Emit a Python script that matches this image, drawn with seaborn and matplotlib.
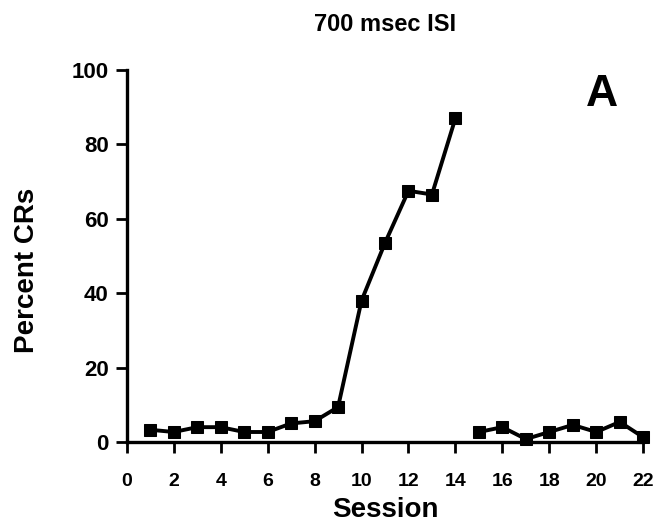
import numpy as np
import pandas as pd
import matplotlib
matplotlib.use("Agg")
import matplotlib.pyplot as plt
import seaborn as sns

# Acquisition sessions (1-14) and extinction sessions (15-22)
acq_sessions = [1, 2, 3, 4, 5, 6, 7, 8, 9, 10, 11, 12, 13, 14]
acq_percent = [3.3, 2.7, 4.0, 4.0, 2.7, 2.7, 5.0, 5.6, 9.4, 38, 53.5, 67.5, 66.5, 87]
ext_sessions = [15, 16, 17, 18, 19, 20, 21, 22]
ext_percent = [2.7, 4.0, 0.8, 2.7, 4.6, 2.7, 5.4, 1.3]

x_ticks = list(range(0, 23, 2))
y_ticks = [0, 20, 40, 60, 80, 100]

sns.set_theme(style="ticks")
plt.rcParams["font.family"] = ["Liberation Sans", "DejaVu Sans"]
plt.rcParams["text.color"] = "black"
plt.rcParams["axes.labelcolor"] = "black"

df = pd.concat([
    pd.DataFrame({"Session": acq_sessions, "Percent": acq_percent, "phase": "acq"}),
    pd.DataFrame({"Session": ext_sessions, "Percent": ext_percent, "phase": "ext"}),
])

fig = plt.figure(figsize=(6.57, 5.25), dpi=100)
ax = fig.add_axes([0.193, 0.158, 0.786, 0.709])

sns.lineplot(data=df, x="Session", y="Percent", hue="phase",
             palette=["black", "black"], marker="s", markersize=9,
             markeredgecolor="black", linewidth=2.8, legend=False, ax=ax,
             estimator=None, clip_on=False)

ax.set_xlim(0, 22)
ax.set_ylim(0, 100)
ax.set_xticks(x_ticks)
ax.set_yticks(y_ticks)
ax.set_xticklabels([str(t) for t in x_ticks], fontsize=14, fontweight="bold")
ax.set_yticklabels([str(t) for t in y_ticks], fontsize=16, fontweight="bold")
ax.tick_params(axis="both", direction="out", length=8, width=2, color="black",
               labelcolor="black")
ax.tick_params(axis="x", pad=14)
ax.tick_params(axis="y", pad=5)

for side in ["top", "right"]:
    ax.spines[side].set_visible(False)
for side in ["left", "bottom"]:
    ax.spines[side].set_linewidth(2.4)
    ax.spines[side].set_color("black")

ax.set_xlabel("Session", fontsize=20, fontweight="bold", labelpad=5)
ax.set_ylabel("Percent CRs", fontsize=20, fontweight="bold")
ax.yaxis.set_label_coords(-0.168, 0.46)
ax.set_title("700 msec ISI", fontsize=17, fontweight="bold", pad=28)
ax.text(0.92, 0.935, "A", transform=ax.transAxes, fontsize=32,
        fontweight="bold", ha="center", va="center")

fig.savefig("out.png", dpi=100)
